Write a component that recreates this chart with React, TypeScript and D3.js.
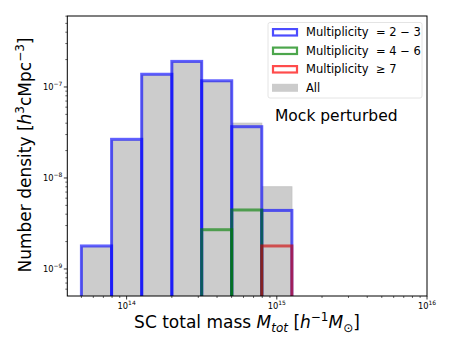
import React from "react";
import * as d3 from "d3";

// bin edges of the mass histogram (h^-1 Msun)
const binEdges = [5.0e13, 7.94e13, 1.26e14, 2.0e14, 3.16e14, 5.01e14, 7.94e14, 1.26e15];
// number densities per bin (0 = empty bin)
const allValues = [1.75e-9, 2.6e-8, 1.35e-7, 1.88e-7, 1.15e-7, 4.0e-8, 8.0e-9];
const mult23 = [1.79e-9, 2.66e-8, 1.38e-7, 1.91e-7, 1.17e-7, 3.66e-8, 4.4e-9];
const mult46 = [0, 0, 0, 0, 2.7e-9, 4.45e-9, 0];
const mult7 = [0, 0, 0, 0, 0, 0, 1.79e-9];

const xTickExps = [14, 15, 16];
const yTickExps = [-9, -8, -7];

const legendItems = [
  { name: "Multiplicity", rel: "= 2 \u2212 3", color: "blue", kind: "line" },
  { name: "Multiplicity", rel: "= 4 \u2212 6", color: "green", kind: "line" },
  { name: "Multiplicity", rel: "\u2265 7", color: "red", kind: "line" },
  { name: "All", rel: "", color: "#cccccc", kind: "fill" },
];

const W = 450;
const H = 337;
const left = 67.3;
const right = 427;
const top = 16;
const bottom = 296;
const font = "DejaVu Sans, sans-serif";

const Pow = ({ exp, x, y, anchor }: { exp: number; x: number; y: number; anchor: string }) => (
  <text x={x} y={y} textAnchor={anchor} fontSize={8.3} fontFamily={font} fill="#000">
    10
    <tspan fontSize={6} dy={-3.5}>
      {exp < 0 ? "\u2212" + Math.abs(exp) : String(exp)}
    </tspan>
  </text>
);

const Bars = ({ values, x, y, color, fill }: any) => (
  <g>
    {values.map((v: number, i: number) => {
      if (!v) return null;
      const x0 = x(binEdges[i]);
      const x1 = x(binEdges[i + 1]);
      const yt = y(v);
      return fill ? (
        <rect key={i} x={x0} y={yt} width={x1 - x0} height={bottom - yt + 5}
          fill="#cccccc" stroke="#c4c4c4" strokeWidth={1} />
      ) : (
        <rect key={i} x={x0} y={yt} width={x1 - x0} height={bottom - yt + 10}
          fill="none" stroke={color} strokeOpacity={0.62} strokeWidth={3} />
      );
    })}
  </g>
);

export default function App() {
  const x = d3.scaleLog().domain([Math.pow(10, 13.605), 1e16]).range([left, right]);
  const y = d3.scaleLog().domain([Math.pow(10, -9.297), Math.pow(10, -6.22)]).range([bottom, top]);

  const xMinor = x.ticks().filter((t) => {
    const l = Math.log10(t);
    return Math.abs(l - Math.round(l)) > 1e-6;
  });
  const yMinor = y.ticks().filter((t) => {
    const l = Math.log10(t);
    return Math.abs(l - Math.round(l)) > 1e-6;
  });

  return (
    <svg width={W} height={H} style={{ position: "absolute", left: 0, top: 0 }}>
      <rect width={W} height={H} fill="#fff" />
      <defs>
        <clipPath id="plot">
          <rect x={left} y={top} width={right - left} height={bottom - top} />
        </clipPath>
      </defs>

      <g clipPath="url(#plot)">
        <Bars values={allValues} x={x} y={y} fill />
        <Bars values={mult23} x={x} y={y} color="blue" />
        <Bars values={mult46} x={x} y={y} color="green" />
        <Bars values={mult7} x={x} y={y} color="#d00000" />
      </g>

      {/* frame */}
      <rect x={left} y={top} width={right - left} height={bottom - top} fill="none" stroke="#000" strokeWidth={1} />

      {/* x ticks */}
      {xTickExps.map((e) => (
        <g key={"xt" + e}>
          <line x1={x(Math.pow(10, e))} x2={x(Math.pow(10, e))} y1={bottom} y2={bottom + 3.5} stroke="#000" strokeWidth={0.8} />
          <Pow exp={e} x={x(Math.pow(10, e))} y={bottom + 12.5} anchor="middle" />
        </g>
      ))}
      {xMinor.map((t, i) => (
        <line key={"xm" + i} x1={x(t)} x2={x(t)} y1={bottom} y2={bottom + 2} stroke="#000" strokeWidth={0.6} />
      ))}

      {/* y ticks */}
      {yTickExps.map((e) => (
        <g key={"yt" + e}>
          <line x1={left - 3.5} x2={left} y1={y(Math.pow(10, e))} y2={y(Math.pow(10, e))} stroke="#000" strokeWidth={0.8} />
          <Pow exp={e} x={left - 5} y={y(Math.pow(10, e)) + 3} anchor="end" />
        </g>
      ))}
      {yMinor.map((t, i) => (
        <line key={"ym" + i} x1={left - 2} x2={left} y1={y(t)} y2={y(t)} stroke="#000" strokeWidth={0.6} />
      ))}

      {/* legend */}
      <rect x={268} y={22.5} width={154} height={75.5} rx={2} fill="#fff" fillOpacity={0.8} stroke="#dddddd" strokeWidth={0.8} />
      {legendItems.map((d, i) => {
        const cy = 32.3 + i * 18.5;
        return (
          <g key={d.rel + i}>
            {d.kind === "line" ? (
              <rect x={273} y={cy - 3.2} width={24} height={6.4} fill="none" stroke={d.color}
                strokeOpacity={0.7} strokeWidth={2.2} />
            ) : (
              <rect x={272} y={cy - 4} width={26} height={8} fill={d.color} />
            )}
            <text x={306} y={cy + 4} fontSize={11.5} fontFamily={font} fill="#000">
              {d.name}
            </text>
            <text x={376} y={cy + 4} fontSize={11.5} fontFamily={font} fill="#000">
              {d.rel}
            </text>
          </g>
        );
      })}

      <text x={275} y={121} fontSize={15.5} fontFamily={font} fill="#000">
        Mock perturbed
      </text>

      {/* axis labels */}
      <text x={247} y={328} textAnchor="middle" fontSize={17} fontFamily={font} fill="#000">
        SC total mass <tspan fontStyle="italic">M</tspan>
        <tspan fontStyle="italic" fontSize={12} dy={3.5}>tot</tspan>
        <tspan dy={-3.5}> [</tspan>
        <tspan fontStyle="italic">h</tspan>
        <tspan fontSize={12} dy={-7}>{"\u22121"}</tspan>
        <tspan fontStyle="italic" dy={7}>M</tspan>
        <tspan fontSize={12} dy={3.5}>{"\u2299"}</tspan>
        <tspan dy={-3.5}>]</tspan>
      </text>
      <text transform={`translate(31, 155) rotate(-90)`} textAnchor="middle" fontSize={17} fontFamily={font} fill="#000">
        Number density [<tspan fontStyle="italic">h</tspan>
        <tspan fontSize={12} dy={-7}>3</tspan>
        <tspan dy={7}>cMpc</tspan>
        <tspan fontSize={12} dy={-7}>{"\u22123"}</tspan>
        <tspan dy={7}>]</tspan>
      </text>
    </svg>
  );
}
